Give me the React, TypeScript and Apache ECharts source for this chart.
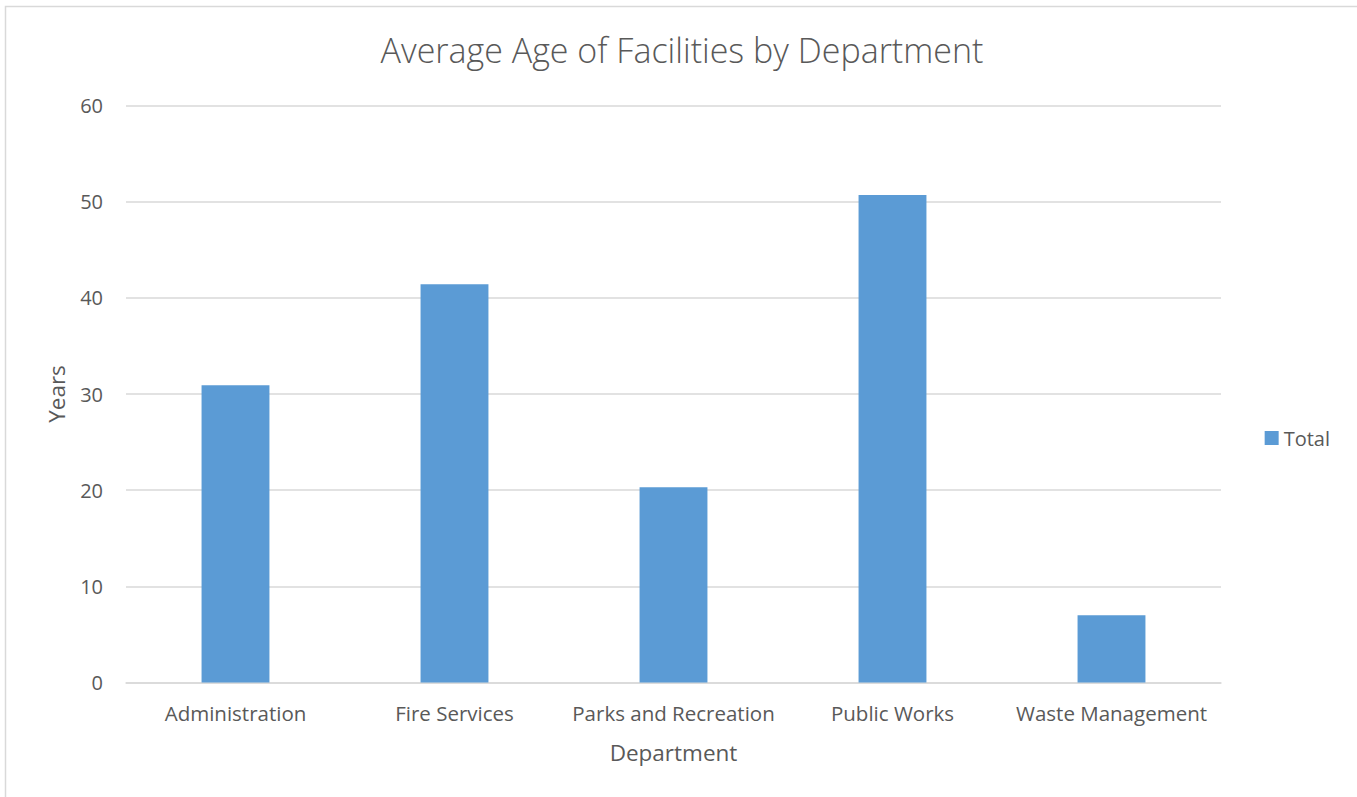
import React, { useEffect, useRef } from "react";
import * as echarts from "echarts";

const categories = ["Administration", "Fire Services", "Parks and Recreation", "Public Works", "Waste Management"];
const totals = [30.9, 41.4, 20.3, 50.7, 7.0];
const seriesName = "Total";

export default function App() {
  const ref = useRef<HTMLDivElement>(null);
  useEffect(() => {
    const chart = echarts.init(ref.current!, null, { renderer: "svg" });
    const font = "'Open Sans', 'Noto Sans', sans-serif";
    chart.setOption({
      animation: false,
      backgroundColor: "#ffffff",
      textStyle: { fontFamily: font },
      title: {
        text: "Average Age of Facilities by Department",
        left: 677,
        top: 28,
        textAlign: "center",
        textStyle: { fontFamily: font, fontSize: 34, fontWeight: 300, color: "#595959" },
      },
      graphic: [
        {
          type: "rect",
          shape: { x: 5.5, y: 6.5, width: 1400, height: 900 },
          style: { fill: "none", stroke: "#d9d9d9", lineWidth: 1.5 },
          silent: true,
        },
      ],
      legend: {
        right: 22,
        top: 423,
        orient: "vertical",
        icon: "rect",
        itemWidth: 14,
        itemHeight: 14,
        itemGap: 6,
        textStyle: { fontFamily: font, fontSize: 20, color: "#595959" },
        data: [seriesName],
      },
      grid: { left: 126, right: 136, top: 105.5, bottom: 114.5, containLabel: false },
      xAxis: {
        type: "category",
        data: categories,
        name: "Department",
        nameLocation: "middle",
        nameGap: 58,
        nameTextStyle: { fontFamily: font, fontSize: 22.5, color: "#595959" },
        axisLine: { lineStyle: { color: "#d9d9d9", width: 1.5 } },
        axisTick: { show: false },
        axisLabel: { fontFamily: font, fontSize: 20.5, color: "#595959", margin: 20, interval: 0 },
      },
      yAxis: {
        type: "value",
        min: 0,
        max: 60,
        interval: 10,
        name: "Years",
        nameLocation: "middle",
        nameGap: 58,
        nameRotate: 90,
        nameTextStyle: { fontFamily: font, fontSize: 22.5, color: "#595959" },
        axisLine: { show: false },
        axisTick: { show: false },
        splitLine: { lineStyle: { color: "#d9d9d9", width: 1.5 } },
        axisLabel: { fontFamily: font, fontSize: 20, color: "#595959", margin: 23 },
      },
      series: [
        {
          name: seriesName,
          type: "bar",
          data: totals,
          barWidth: "31%",
          itemStyle: { color: "#5b9bd5" },
        },
      ],
    });
    return () => chart.dispose();
  }, []);
  return <div ref={ref} style={{ position: "fixed", left: 0, top: 0, width: 1357, height: 797 }} />;
}
